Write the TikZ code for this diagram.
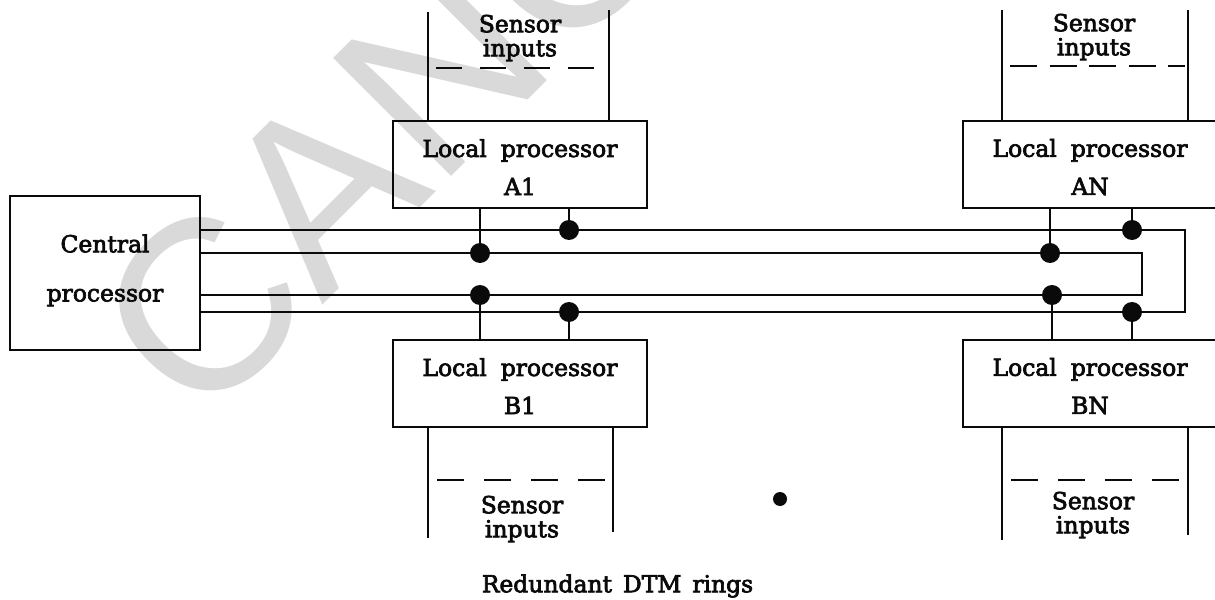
\documentclass[tikz,border=0pt]{standalone}
\usepackage{fontspec}
\setmainfont[FakeBold=3]{DejaVu Serif}
\newfontfamily\stampfont{Liberation Sans}
\usetikzlibrary{positioning, calc}
\usepackage{xcolor}
\definecolor{stampGray}{HTML}{D9D9D9}
\definecolor{inkBlack}{HTML}{0A0A0A}
\newcommand{\proclabel}[1]{\rule{0pt}{0.69cm}Local\hspace{0.42cm}processor\\[0.44cm]#1}

\begin{document}
\begin{tikzpicture}[
    x=0.03cm, y=-0.03cm,
    node distance=1cm,
    line width=0.055cm,
    inkBlack,
    every node/.style={font=\fontsize{20}{20}\selectfont, inner sep=0pt, outer sep=0pt, text=inkBlack},
    procbox/.style={draw, minimum width=7.62cm, minimum height=2.61cm, align=center},
    tapdot/.style={circle, fill=inkBlack, draw=none, minimum size=0.6cm},
    sensorlabel/.style={align=center},
    cuta/.style={dash pattern=on 0.78cm off 0.54cm},
    cutb/.style={dash pattern=on 0.81cm off 0.6cm},
    cutn/.style={dash pattern=on 0.81cm off 0.375cm},
]
\useasboundingbox (0,0) rectangle (1215,600);

% ============================================
% Stamp behind the drawing
% ============================================
\begin{scope}
\clip (0,0) rectangle (1215,600);
\node[font=\stampfont\fontsize{207}{207}\selectfont, text=stampGray, rotate=45, anchor=base west] (stamp) at (199,429) {CANC};
\end{scope}

% ============================================
% Processors
% ============================================
\node[procbox, minimum width=5.7cm, minimum height=4.62cm] (central) at (105,273) {Central\\[0.77cm]processor\\[-0.4cm]\mbox{}};
\node[procbox] (a1) at (520,164.5) {\proclabel{A1}};
\node[procbox, right=9.48cm of a1] (an) {\proclabel{AN}};
\node[procbox, below=3.96cm of a1] (b1) {\proclabel{B1}};
\node[procbox, below=3.96cm of an] (bn) {\proclabel{BN}};

% ============================================
% Sensor inputs
% ============================================
\node[sensorlabel] (sensa1) at (520,38) {Sensor\\[0.02cm]inputs};
\node[sensorlabel] (sensan) at (1094,37) {Sensor\\[0.02cm]inputs};
\node[sensorlabel] (sensb1) at (522,519) {Sensor\\[0.02cm]inputs};
\node[sensorlabel] (sensbn) at (1093,515) {Sensor\\[0.02cm]inputs};

\coordinate (a1left) at (428,12);
\coordinate (a1right) at (609,10);
\coordinate (anleft) at (1002,10);
\coordinate (anright) at (1188,10);
\coordinate (b1left) at (428,538);
\coordinate (b1right) at (613,532);
\coordinate (bnleft) at (1002,540);
\coordinate (bnright) at (1188,535);

\draw (a1left) -- (a1left |- a1.north);
\draw (a1right) -- (a1right |- a1.north);
\draw (anleft) -- (anleft |- an.north);
\draw (anright) -- (anright |- an.north);
\draw (b1left) -- (b1left |- b1.south);
\draw (b1right) -- (b1right |- b1.south);
\draw (bnleft) -- (bnleft |- bn.south);
\draw (bnright) -- (bnright |- bn.south);

% cut marks
\coordinate (a1cuta) at (436,68);
\coordinate (a1cutb) at (594,68);
\coordinate (ancuta) at (1010,66);
\coordinate (ancutb) at (1185,66);
\coordinate (b1cuta) at (437,480);
\coordinate (b1cutb) at (608,480);
\coordinate (bncuta) at (1011,480);
\coordinate (bncutb) at (1180,480);
\draw[cuta] (a1cuta) -- (a1cutb);
\draw[cutn] (ancuta) -- (ancutb);
\draw[cutb] (b1cuta) -- (b1cutb);
\draw[cutb] (bncuta) -- (bncutb);

% ============================================
% Rings
% ============================================
\node[tapdot] (dota1o) at (569,230) {};
\node[tapdot] (dota1i) at (480,253) {};
\node[tapdot] (dotb1i) at (480,295) {};
\node[tapdot] (dotb1o) at (569,312) {};
\node[tapdot] (dotano) at (1132,230) {};
\node[tapdot] (dotani) at (1050,253) {};
\node[tapdot] (dotbni) at (1052,295) {};
\node[tapdot] (dotbno) at (1132,312) {};

\coordinate (startao) at (201,230);
\coordinate (startai) at (201,253);
\coordinate (startbi) at (201,295);
\coordinate (startbo) at (201,312);
\coordinate (turnao) at (1185,230);
\coordinate (turnbo) at (1185,312);
\coordinate (turnai) at (1142,253);
\coordinate (turnbi) at (1142,295);

% outer ring
\draw (startao) -- (dota1o) -- (dotano) -- (turnao) -- (turnbo) -- (dotbno) -- (dotb1o) -- (startbo);
% inner ring
\draw (startai) -- (dota1i) -- (dotani) -- (turnai) -- (turnbi) -- (dotbni) -- (dotb1i) -- (startbi);

% taps
\draw (dota1o) -- (dota1o |- a1.south);
\draw (dota1i) -- (dota1i |- a1.south);
\draw (dotano) -- (dotano |- an.south);
\draw (dotani) -- (dotani |- an.south);
\draw (dotb1o) -- (dotb1o |- b1.north);
\draw (dotb1i) -- (dotb1i |- b1.north);
\draw (dotbno) -- (dotbno |- bn.north);
\draw (dotbni) -- (dotbni |- bn.north);

% ============================================
% Caption
% ============================================
\node (caption) at (617.5,586) {Redundant\hspace{0.33cm}DTM\hspace{0.33cm}rings};
\node[tapdot, minimum size=0.42cm] (speck) at (780,499) {};

\end{tikzpicture}
\end{document}
